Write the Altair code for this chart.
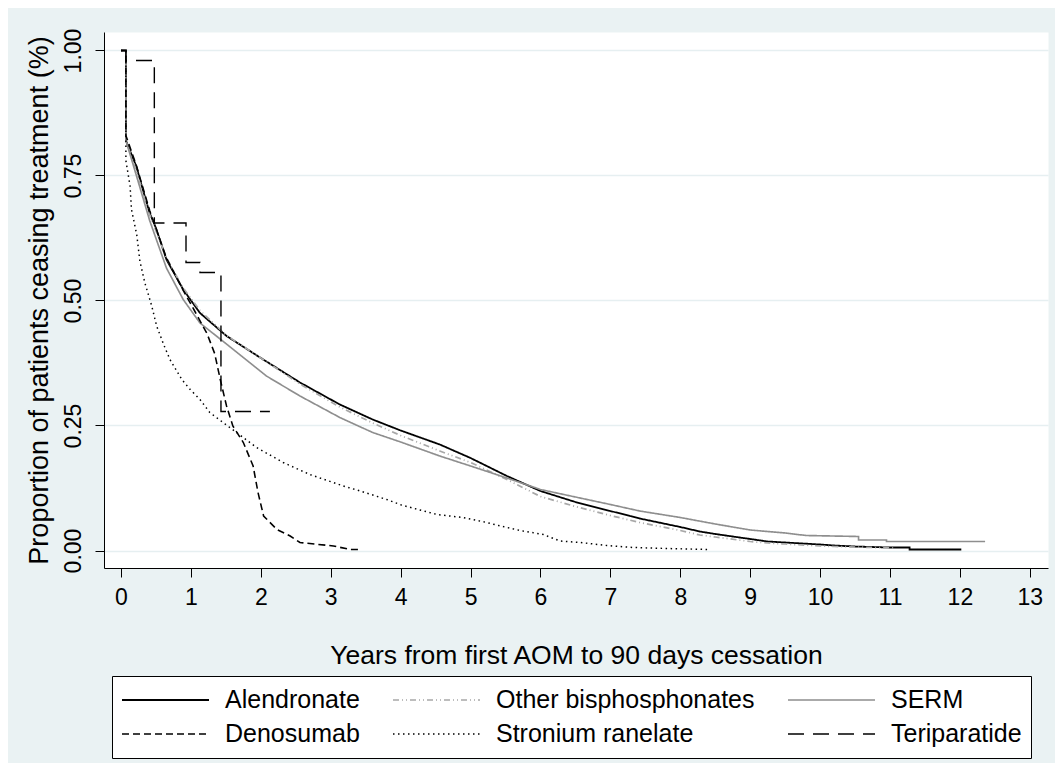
import altair as alt
import pandas as pd

series_names = ["Alendronate", "Other bisphosphonates", "SERM",
                "Denosumab", "Stronium ranelate", "Teriparatide"]

alen_x = [0, 0.07, 0.07, 0.22, 0.30, 0.41, 0.50, 0.65, 0.89, 1.13, 1.51, 2.0, 2.56, 3.13, 3.6,
          4.0, 4.56, 5.0, 5.52, 6.0, 6.5, 7.0, 7.42, 8.0, 8.28, 8.5, 9.0, 9.25, 9.5, 10.0,
          10.2, 10.5, 11.0, 11.28, 11.28, 12.02]
alen_y = [1.0, 1.0, 0.82, 0.768, 0.728, 0.675, 0.645, 0.582, 0.522, 0.475, 0.429, 0.385,
          0.336, 0.292, 0.262, 0.240, 0.212, 0.185, 0.149, 0.119, 0.097, 0.079, 0.064, 0.047,
          0.038, 0.033, 0.023, 0.018, 0.016, 0.012, 0.010, 0.008, 0.006, 0.006, 0.002, 0.002]

oth_x = [0, 0.07, 0.07, 0.22, 0.41, 0.65, 0.89, 1.13, 1.51, 2.0, 2.56, 3.13, 3.6, 4.0, 4.56,
         5.0, 5.52, 6.0, 6.5, 7.0, 7.42, 8.0, 8.28, 8.5, 9.0, 9.25, 9.5, 10.0, 10.2, 10.5, 11.05]
oth_y = [1.0, 1.0, 0.82, 0.76, 0.672, 0.585, 0.525, 0.48, 0.43, 0.385, 0.333, 0.287, 0.255,
         0.230, 0.199, 0.176, 0.142, 0.108, 0.088, 0.070, 0.056, 0.040, 0.031, 0.027, 0.018,
         0.015, 0.013, 0.009, 0.008, 0.007, 0.005]

serm_x = [0, 0.07, 0.07, 0.22, 0.41, 0.65, 0.89, 1.13, 1.49, 2.08, 2.56, 3.13, 3.6, 4.0, 4.56,
          5.0, 5.52, 6.0, 6.5, 7.0, 7.42, 8.0, 8.5, 9.0, 9.5, 9.8, 10.55, 10.55, 10.95, 10.95,
          12.36]
serm_y = [1.0, 1.0, 0.82, 0.75, 0.66, 0.565, 0.502, 0.455, 0.415, 0.349, 0.309, 0.266, 0.236,
          0.217, 0.189, 0.169, 0.145, 0.122, 0.107, 0.092, 0.079, 0.066, 0.053, 0.041, 0.035,
          0.030, 0.028, 0.021, 0.021, 0.018, 0.018]

deno_x = [0, 0.07, 0.07, 0.22, 0.41, 0.65, 0.89, 1.05, 1.23, 1.34, 1.42, 1.51, 1.60, 1.75,
          1.89, 1.96, 2.04, 2.23, 2.42, 2.56, 3.04, 3.28, 3.42]
deno_y = [1.0, 1.0, 0.83, 0.77, 0.68, 0.585, 0.52, 0.48, 0.434, 0.394, 0.342, 0.289, 0.249,
          0.216, 0.169, 0.116, 0.069, 0.042, 0.029, 0.016, 0.009, 0.002, 0.002]

stro_x = [0, 0.07, 0.07, 0.13, 0.15, 0.225, 0.27, 0.34, 0.44, 0.51, 0.61, 0.70, 0.87, 0.99,
          1.13, 1.27, 1.46, 1.94, 2.32, 2.70, 3.18, 3.4, 3.8, 4.01, 4.25, 4.52, 4.89, 5.23,
          5.40, 5.71, 6.04, 6.28, 6.57, 6.95, 7.33, 7.8, 8.4]
stro_y = [1.0, 1.0, 0.78, 0.729, 0.682, 0.632, 0.579, 0.536, 0.489, 0.449, 0.412, 0.382,
          0.342, 0.322, 0.302, 0.276, 0.256, 0.206, 0.176, 0.152, 0.129, 0.12, 0.102, 0.091,
          0.082, 0.072, 0.066, 0.056, 0.050, 0.040, 0.032, 0.019, 0.016, 0.010, 0.006, 0.004,
          0.002]

teri_x = [0, 0.07, 0.07, 0.477, 0.477, 0.93, 0.93, 1.13, 1.13, 1.43, 1.43, 2.13]
teri_y = [1.0, 1.0, 0.98, 0.98, 0.655, 0.655, 0.576, 0.576, 0.556, 0.556, 0.278, 0.278]

x_ticks = list(range(0, 14))
y_ticks = [0, 0.25, 0.5, 0.75, 1.0]

series_data = [alen_x, alen_y, oth_x, oth_y, serm_x, serm_y,
               deno_x, deno_y, stro_x, stro_y, teri_x, teri_y]
rows = []
for k, name in enumerate(series_names):
    xs = series_data[2 * k]
    ys = series_data[2 * k + 1]
    for i, (a, b) in enumerate(zip(xs, ys)):
        rows.append({"series": name, "t": a, "p": b, "i": i})
df = pd.DataFrame(rows)

colors = ["#000000", "#a8a8a8", "#8e8e8e", "#000000", "#000000", "#000000"]
dashes = [[1, 0], [6, 3, 1, 3, 1, 3], [1, 0], [7, 4], [1.5, 3.5], [16, 9]]
widths = [1.8, 1.4, 1.8, 1.5, 1.6, 1.5]

TXT = "Liberation Sans"

leg = alt.Legend(
    orient="none", legendX=8, legendY=644, columns=3, direction="horizontal",
    symbolType="stroke", symbolSize=7569, symbolStrokeWidth=1.6, clipHeight=30,
    labelFont=TXT, labelFontSize=25, labelColor="black", labelOffset=15, labelLimit=400,
    columnPadding=32, rowPadding=4, padding=9,
    strokeColor="black", fillColor="white",
)

chart = alt.Chart(df).mark_line(interpolate="linear", clip=True).encode(
    x=alt.X("t:Q",
            scale=alt.Scale(domain=[-0.243, 13.26], nice=False, zero=False),
            axis=alt.Axis(values=x_ticks, title="Years from first AOM to 90 days cessation",
                          grid=False, tickSize=9, tickColor="black", domainColor="black",
                          labelFont=TXT, labelFontSize=23, labelColor="black",
                          labelPadding=9, titleFont=TXT, titleFontSize=26.5,
                          titleFontWeight="normal", titleColor="black",
                          titleY=95, titleBaseline="alphabetic")),
    y=alt.Y("p:Q",
            scale=alt.Scale(domain=[-0.035, 1.037], nice=False, zero=False),
            axis=alt.Axis(values=y_ticks, format=".2f",
                          title="Proportion of patients ceasing treatment (%)",
                          grid=True, gridColor="#e6eff1", gridWidth=1.3,
                          tickSize=9, tickColor="black", domainColor="black",
                          labelFont=TXT, labelFontSize=23, labelColor="black",
                          labelAngle=270, labelAlign="center", labelBaseline="alphabetic",
                          labelPadding=15, titleFont=TXT, titleFontSize=27,
                          titleFontWeight="normal", titleColor="black",
                          titleX=-57, titleBaseline="alphabetic")),
    color=alt.Color("series:N", title=None,
                    scale=alt.Scale(domain=series_names, range=colors), legend=leg),
    strokeDash=alt.StrokeDash("series:N", title=None,
                              scale=alt.Scale(domain=series_names, range=dashes), legend=leg),
    strokeWidth=alt.StrokeWidth("series:N",
                                scale=alt.Scale(domain=series_names, range=widths), legend=None),
    order=alt.Order("i:Q"),
).properties(
    width=944, height=536,
    autosize=alt.AutoSizeParams(type="none"),
    padding={"left": 96, "top": 24, "right": 7, "bottom": 195},
    background="#eaf2f3",
).configure_view(
    fill="white", stroke="transparent"
)

chart.save("out.html", embed_options={"renderer": "svg", "actions": False})
